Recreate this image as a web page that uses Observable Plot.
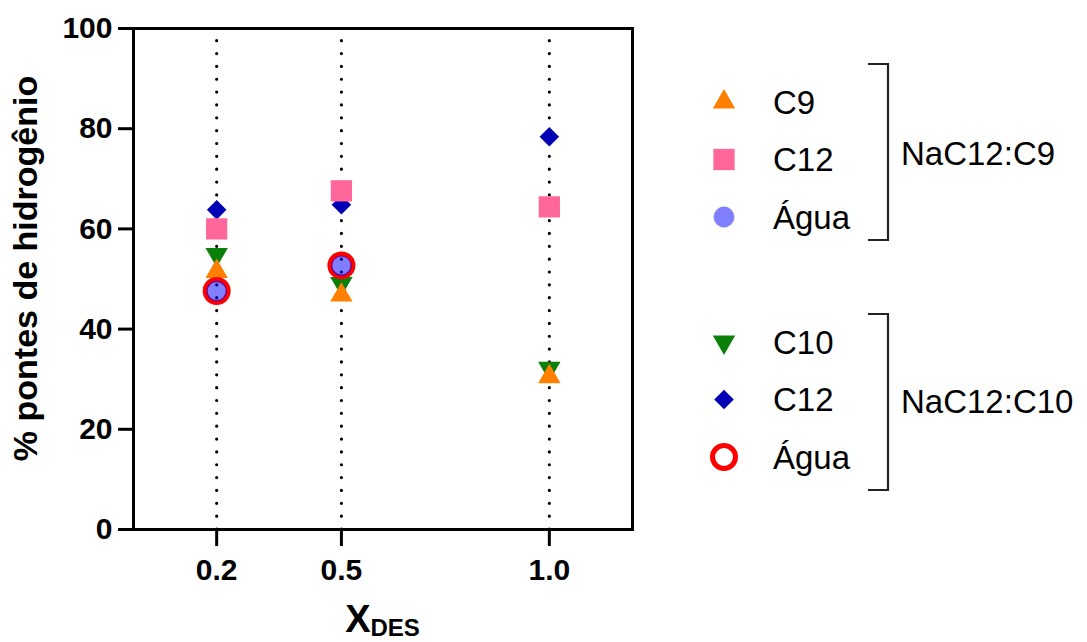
<!DOCTYPE html>
<html>
<head>
<meta charset="utf-8">
<script src="https://cdn.jsdelivr.net/npm/d3@7"></script>
<script src="https://cdn.jsdelivr.net/npm/@observablehq/plot@0.6"></script>
<style>
  body { margin: 0; background: #fff; }
  #chart { position: relative; width: 1087px; height: 642px; overflow: hidden; }
  svg { font-family: "Liberation Sans", Arial, sans-serif; }
</style>
</head>
<body>
<div id="chart"></div>
<script>
// ---- data ----
const xDes = [0.2, 0.5, 1.0];
const xTicks = [0.2, 0.5, 1.0];
const xTickLabels = ["0.2", "0.5", "1.0"];
const yTicks = [0, 20, 40, 60, 80, 100];

// NaC12:C9 system
const c9Values = [51.5, 46.8, 30.5];
const c12C9Values = [60.0, 67.6, 64.4];
const aguaC9Values = [47.6, 52.6, null];

// NaC12:C10 system
const c10Values = [54.9, 49.1, 32.2];
const c12C10Values = [63.8, 64.8, 78.4];
const aguaC10Values = [47.6, 52.7, null];

const yLabel = "% pontes de hidrogênio";
const xLabelMain = "X";
const xLabelSub = "DES";

const legendGroups = [
  { name: "NaC12:C9", items: [
    { label: "C9", key: "c9" },
    { label: "C12", key: "c12c9" },
    { label: "Água", key: "aguac9" }
  ]},
  { name: "NaC12:C10", items: [
    { label: "C10", key: "c10" },
    { label: "C12", key: "c12c10" },
    { label: "Água", key: "aguac10" }
  ]}
];

// ---- styles ----
const styles = {
  c9:      { symbol: "triangle", fill: "#FF7F00", r: 8.3, rotate: 0 },
  c10:     { symbol: "triangle", fill: "#0A7F0A", r: 8.3, rotate: 180 },
  c12c10:  { symbol: "diamond2", fill: "#0000B4", r: 8.8, rotate: 0 },
  c12c9:   { symbol: "square", fill: "#FF6699", r: 12, rotate: 0 },
  aguac10: { symbol: "circle", fill: "none", stroke: "#FF0000", strokeWidth: 5, r: 11.5 },
  aguac9:  { symbol: "circle", fill: "#0000FF", fillOpacity: 0.5, r: 10.4 }
};

const seriesValues = {
  c9: c9Values, c10: c10Values, c12c10: c12C10Values,
  c12c9: c12C9Values, aguac10: aguaC10Values, aguac9: aguaC9Values
};
const drawOrder = ["c10", "c9", "c12c10", "c12c9", "aguac10", "aguac9"];

function rows(key) {
  return xDes.map((x, i) => ({ x, y: seriesValues[key][i] })).filter(d => d.y != null);
}

const W = 1087, H = 642;
const plot = Plot.plot({
  width: W,
  height: H,
  marginLeft: 133,
  marginRight: 455,
  marginTop: 28,
  marginBottom: 113,
  style: { fontFamily: "Liberation Sans, Arial, sans-serif", background: "white", overflow: "visible" },
  x: { domain: [0, 1.2] },
  y: { domain: [0, 100] },
  marks: [
    Plot.ruleX(xTicks, {
      y1: 0, y2: 100, stroke: "black", strokeWidth: 3.2,
      strokeDasharray: "0 12.85", strokeLinecap: "round"
    }),
    ...drawOrder.map(k => {
      const s = styles[k];
      return Plot.dot(rows(k), {
        x: "x", y: "y", symbol: s.symbol, r: s.r, rotate: s.rotate || 0,
        fill: s.fill, fillOpacity: s.fillOpacity ?? 1,
        stroke: s.stroke || "none", strokeWidth: s.strokeWidth || 0
      });
    }),
    Plot.frame({ stroke: "black", strokeWidth: 3 }),
    Plot.axisY(yTicks, {
      tickSize: 15, tickPadding: 6, strokeWidth: 3, stroke: "black",
      fontSize: 30, fontWeight: "bold", fill: "black", label: null
    }),
    Plot.axisX(xTicks, {
      tickSize: 17, tickPadding: 12, strokeWidth: 3, stroke: "black",
      tickFormat: (d) => xTickLabels[xTicks.indexOf(d)],
      fontSize: 30, fontWeight: "bold", fill: "black", label: null
    })
  ]
});

document.getElementById("chart").appendChild(plot);

const svg = d3.select(plot);
const xs = plot.scale("x"), ys = plot.scale("y");
const xMid = (xs.range[0] + xs.range[1]) / 2;
const yMid = (ys.range[0] + ys.range[1]) / 2;

// y-axis title
svg.append("text")
  .attr("transform", `translate(37,${yMid - 10}) rotate(-90)`)
  .attr("text-anchor", "middle")
  .attr("font-size", 34).attr("font-weight", "bold").attr("fill", "black")
  .text(yLabel);

// x-axis title with subscript
const xt = svg.append("text")
  .attr("x", xMid).attr("y", 632)
  .attr("text-anchor", "middle")
  .attr("font-weight", "bold").attr("fill", "black");
xt.append("tspan").attr("font-size", 38).text(xLabelMain);
xt.append("tspan").attr("font-size", 24).attr("dy", 4).text(xLabelSub);

// legend
const legendX = 724, textX = 773, rowGap = 57.5;
const groupTops = [102, 342];
const bracketSpans = [[64, 240], [314, 490]];
const symbolGen = {
  triangle: d3.symbolTriangle, square: d3.symbolSquare,
  diamond2: d3.symbolDiamond2, circle: d3.symbolCircle
};
legendGroups.forEach((g, gi) => {
  const top = groupTops[gi];
  g.items.forEach((it, ii) => {
    const s = styles[it.key];
    const cy = top + ii * rowGap;
    const size = Math.PI * s.r * s.r;
    svg.append("path")
      .attr("d", d3.symbol(symbolGen[s.symbol], size)())
      .attr("transform", `translate(${legendX},${cy}) rotate(${s.rotate || 0})`)
      .attr("fill", s.fill)
      .attr("fill-opacity", s.fillOpacity ?? 1)
      .attr("stroke", s.stroke || "none")
      .attr("stroke-width", s.strokeWidth || 0);
    svg.append("text")
      .attr("x", textX).attr("y", cy + 11.5)
      .attr("text-anchor", "start")
      .attr("font-size", 33).attr("fill", "black")
      .text(it.label);
  });
  const [bTop, bBot] = bracketSpans[gi];
  svg.append("path")
    .attr("d", `M868,${bTop}H888V${bBot}H868`)
    .attr("fill", "none").attr("stroke", "#222").attr("stroke-width", 2.2);
  svg.append("text")
    .attr("x", 901).attr("y", top + rowGap + 11.5 - (gi === 0 ? 6 : -2))
    .attr("text-anchor", "start")
    .attr("font-size", 33).attr("fill", "black")
    .text(g.name);
});
</script>
</body>
</html>
